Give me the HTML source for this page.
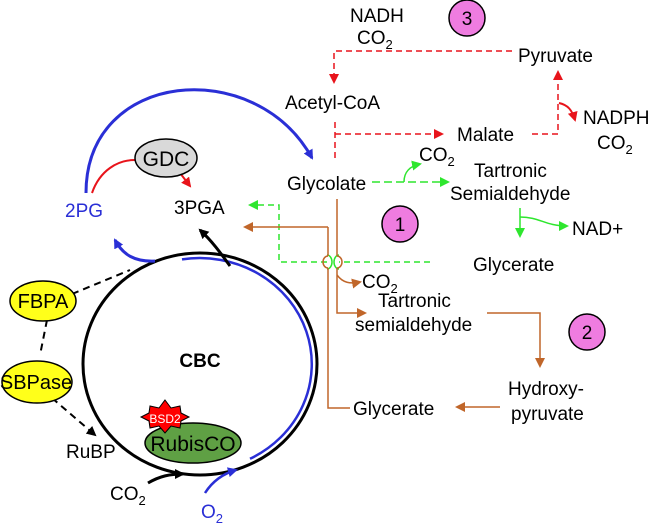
<!DOCTYPE html>
<html><head><meta charset="utf-8"><style>
body{margin:0;background:#fff}
svg{display:block}
text{font-family:"Liberation Sans",sans-serif;font-size:19px;fill:#000}
.s{font-size:13px}
</style></head><body>
<svg width="650" height="526" viewBox="0 0 650 526" xmlns="http://www.w3.org/2000/svg">
<defs>
<marker id="ab" markerWidth="10" markerHeight="10" refX="8" refY="5" orient="auto" markerUnits="userSpaceOnUse"><path d="M0,0 L10,5 L0,10 z" fill="#2a2fd6"/></marker>
<marker id="ak" markerWidth="10" markerHeight="10" refX="8" refY="5" orient="auto" markerUnits="userSpaceOnUse"><path d="M0,0 L10,5 L0,10 z" fill="#000"/></marker>
<marker id="ar" markerWidth="10" markerHeight="10" refX="8" refY="5" orient="auto" markerUnits="userSpaceOnUse"><path d="M0,0 L10,5 L0,10 z" fill="#e8141b"/></marker>
<marker id="ag" markerWidth="10" markerHeight="10" refX="8" refY="5" orient="auto" markerUnits="userSpaceOnUse"><path d="M0,0 L10,5 L0,10 z" fill="#2ee62e"/></marker>
<marker id="ao" markerWidth="10" markerHeight="10" refX="8" refY="5" orient="auto" markerUnits="userSpaceOnUse"><path d="M0,0 L10,5 L0,10 z" fill="#c0662a"/></marker>
</defs>

<ellipse cx="200" cy="364" rx="117" ry="111" fill="none" stroke="#000" stroke-width="3"/>
<path d="M182,259.4 A112,106 0 0 1 250,458.8" fill="none" stroke="#2a2fd6" stroke-width="2.5"/>
<path d="M86,193 C86,70 255,55 312,158" fill="none" stroke="#2a2fd6" stroke-width="3" marker-end="url(#ab)"/>
<path d="M155,261 C135,262 123,255 115,240" fill="none" stroke="#2a2fd6" stroke-width="3" marker-end="url(#ab)"/>
<path d="M230,266 C222,255 213,242 200,230" fill="none" stroke="#000" stroke-width="3" marker-end="url(#ak)"/>
<path d="M92,193 C100,170 118,160 135,160" fill="none" stroke="#e8141b" stroke-width="2"/>
<path d="M180,173 L190,186" fill="none" stroke="#e8141b" stroke-width="2" marker-end="url(#ar)"/>
<ellipse cx="166" cy="158" rx="31" ry="19" fill="#d9d9d9" stroke="#000" stroke-width="1.5"/>
<text x="166" y="166" text-anchor="middle" style="font-size:21px">GDC</text>

<text x="174" y="214">3PGA</text>
<text x="65" y="217" style="fill:#2a2fd6">2PG</text>

<path d="M72,294 L130,270" stroke="#000" stroke-width="2" stroke-dasharray="7,5" fill="none"/>
<path d="M47,320 L40,355" stroke="#000" stroke-width="2" stroke-dasharray="7,5" fill="none"/>
<path d="M52,398 L95,435" stroke="#000" stroke-width="2" stroke-dasharray="7,5" fill="none" marker-end="url(#ak)"/>
<ellipse cx="43" cy="301" rx="33" ry="20" fill="#ffff1a" stroke="#000" stroke-width="1.5"/>
<text x="43" y="308" text-anchor="middle" style="font-size:20px">FBPA</text>
<ellipse cx="37" cy="382" rx="35" ry="21" fill="#ffff1a" stroke="#000" stroke-width="1.5"/>
<text x="36" y="389" text-anchor="middle" style="font-size:20px">SBPase</text>
<text x="66" y="458">RuBP</text>
<text x="200" y="367" text-anchor="middle" style="font-weight:bold">CBC</text>

<ellipse cx="193" cy="443" rx="48" ry="20" fill="#5fa044" stroke="#000" stroke-width="1.5"/>
<text x="193" y="451" text-anchor="middle" style="font-size:21px">RubisCO</text>
<polygon points="165,400 171,408 180,406 181,413 189,417 181,421 180,428 171,426 165,433 159,426 150,428 149,421 141,417 149,413 150,406 159,408" fill="#f00" stroke="#000" stroke-width="1"/>
<text x="165" y="423" text-anchor="middle" style="font-size:12px;fill:#fff">BSD2</text>

<path d="M148,483 C160,476 170,474 183,474" fill="none" stroke="#000" stroke-width="3" marker-end="url(#ak)"/>
<text x="110" y="500">CO<tspan dy="5" class="s">2</tspan></text>
<path d="M205,493 C212,482 222,474 236,470" fill="none" stroke="#2a2fd6" stroke-width="2.5" marker-end="url(#ab)"/>
<text x="201" y="518" style="fill:#2a2fd6">O<tspan dy="5" class="s">2</tspan></text>

<text x="350" y="22">NADH</text>
<text x="357" y="44">CO<tspan dy="5" class="s">2</tspan></text>
<circle cx="467" cy="18" r="18" fill="#ef7ce0" stroke="#000" stroke-width="1.5"/>
<text x="467" y="25" text-anchor="middle">3</text>
<text x="518" y="62">Pyruvate</text>
<path d="M512,51 L334,51 L334,82" fill="none" stroke="#e8141b" stroke-width="1.5" stroke-dasharray="6,4" marker-end="url(#ar)"/>
<text x="285" y="109">Acetyl-CoA</text>
<path d="M335,122 L335,162" fill="none" stroke="#e8141b" stroke-width="1.5" stroke-dasharray="6,4"/>
<path d="M335,134 L442,134" fill="none" stroke="#e8141b" stroke-width="1.5" stroke-dasharray="6,4" marker-end="url(#ar)"/>
<text x="457" y="141">Malate</text>
<path d="M532,134 L558,134 L558,72" fill="none" stroke="#e8141b" stroke-width="1.5" stroke-dasharray="6,4" marker-end="url(#ar)"/>
<path d="M559,103 C568,105 572,110 575,120" fill="none" stroke="#e8141b" stroke-width="2" marker-end="url(#ar)"/>
<text x="583" y="124">NADPH</text>
<text x="597" y="149">CO<tspan dy="5" class="s">2</tspan></text>

<text x="287" y="190">Glycolate</text>
<path d="M372,182 L448,182" fill="none" stroke="#2ee62e" stroke-width="1.5" stroke-dasharray="8,4" marker-end="url(#ag)"/>
<path d="M404,182 C404,172 410,166 420,164" fill="none" stroke="#2ee62e" stroke-width="1.5" marker-end="url(#ag)"/>
<text x="419" y="161">CO<tspan dy="5" class="s">2</tspan></text>
<text x="474" y="177">Tartronic</text>
<text x="450" y="200">Semialdehyde</text>
<path d="M520,208 L520,236" fill="none" stroke="#2ee62e" stroke-width="1.5" marker-end="url(#ag)"/>
<path d="M520,217 C540,217 545,226 567,226" fill="none" stroke="#2ee62e" stroke-width="1.5" marker-end="url(#ag)"/>
<text x="572" y="235">NAD+</text>
<text x="473" y="271">Glycerate</text>
<circle cx="400" cy="224" r="18" fill="#ef7ce0" stroke="#000" stroke-width="1.5"/>
<text x="400" y="231" text-anchor="middle">1</text>
<path d="M430,262 L339,262 M327,262 L279,262 L279,205 L250,205" fill="none" stroke="#2ee62e" stroke-width="1.5" stroke-dasharray="6,4" marker-end="url(#ag)"/>
<path d="M327,255 A5,7 0 0 1 327,269 M339,255 A5,7 0 0 0 339,269" fill="none" stroke="#2ee62e" stroke-width="1.5"/>

<path d="M337,199 L337,256 M337,268 L337,313 L365,313" fill="none" stroke="#c0662a" stroke-width="1.5" marker-end="url(#ao)"/>
<path d="M337,256 A5,6 0 0 1 337,268" fill="none" stroke="#c0662a" stroke-width="1.5"/>
<path d="M328,227 L328,256 M328,268 L328,408 L350,408" fill="none" stroke="#c0662a" stroke-width="1.5"/>
<path d="M328,227 L245,227" fill="none" stroke="#c0662a" stroke-width="1.5" marker-end="url(#ao)"/>
<path d="M328,256 A5,6 0 0 0 328,268" fill="none" stroke="#c0662a" stroke-width="1.5"/>
<path d="M337,275 C343,283 350,284 360,282" fill="none" stroke="#c0662a" stroke-width="1.5" marker-end="url(#ao)"/>
<text x="362" y="288">CO<tspan dy="5" class="s">2</tspan></text>
<text x="378" y="307">Tartronic</text>
<text x="355" y="331">semialdehyde</text>
<path d="M487,313 L540,313 L540,366" fill="none" stroke="#c0662a" stroke-width="1.5" marker-end="url(#ao)"/>
<circle cx="587" cy="332" r="18" fill="#ef7ce0" stroke="#000" stroke-width="1.5"/>
<text x="587" y="339" text-anchor="middle">2</text>
<text x="508" y="395">Hydroxy-</text>
<text x="511" y="420">pyruvate</text>
<path d="M500,407 L457,407" fill="none" stroke="#c0662a" stroke-width="1.5" marker-end="url(#ao)"/>
<text x="353" y="415">Glycerate</text>
</svg>
</body></html>
